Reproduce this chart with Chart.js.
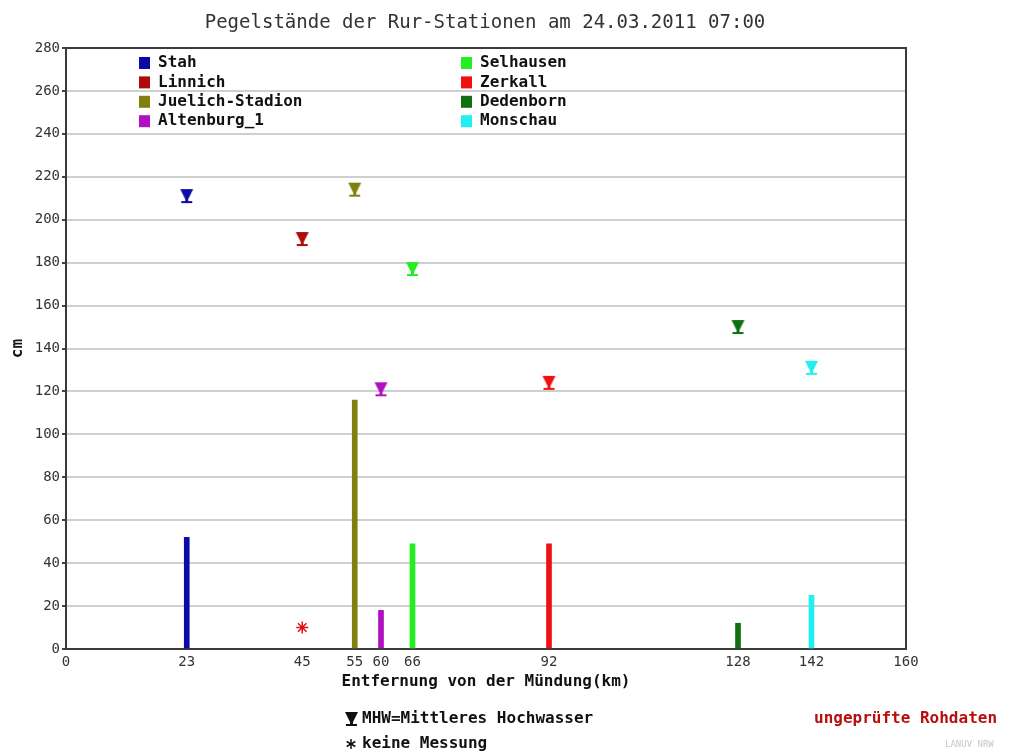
<!DOCTYPE html>
<html>
<head>
<meta charset="utf-8">
<script src="https://cdn.jsdelivr.net/npm/chart.js@4.4.1/dist/chart.umd.min.js"></script>
<style>
  html, body { margin: 0; padding: 0; background: #fff; }
</style>
</head>
<body>
<canvas id="pegel" width="1010" height="753"></canvas>
<script>
// stations ordered by distance from the mouth (km)
const stations = ['Stah', 'Linnich', 'Juelich-Stadion', 'Altenburg_1', 'Selhausen', 'Zerkall', 'Dedenborn', 'Monschau'];
const distanceKm = [23, 45, 55, 60, 66, 92, 128, 142];
const levelCm = [52, null, 116, 18, 49, 49, 12, 25];      // null = keine Messung
const mhwCm = [211, 191, 214, 121, 177, 124, 150, 131];
const missingMarkCm = [10];
const xTickValues = [0, 23, 45, 55, 60, 66, 92, 128, 142, 160];
const yTickValues = [0, 20, 40, 60, 80, 100, 120, 140, 160, 180, 200, 220, 240, 260, 280];

const stationColors = ['#0a0aa8', '#b00a0a', '#808010', '#b010c0', '#22ee22', '#f01010', '#107010', '#22f0f0'];

const MONO = '"DejaVu Sans Mono", "Liberation Mono", monospace';

// MHW marker: down triangle on a stem with a base line
function mhwMarker(color) {
    const c = document.createElement('canvas');
    c.width = 15; c.height = 16;
    const g = c.getContext('2d');
    g.fillStyle = color;
    g.beginPath();
    g.moveTo(1, 1); g.lineTo(14, 1); g.lineTo(9, 11); g.lineTo(6, 11);
    g.closePath();
    g.fill();
    g.fillRect(6, 10, 3, 3);
    g.fillRect(2, 13, 11, 2);
    return c;
}

const barData = [];
const barColors = [];
const mhwData = [];
const mhwStyles = [];
const missingData = [];
stations.forEach((name, i) => {
    if (levelCm[i] !== null) {
        barData.push({ x: distanceKm[i], y: levelCm[i] });
        barColors.push(stationColors[i]);
    } else {
        missingData.push({ x: distanceKm[i], y: missingMarkCm[0] });
    }
    mhwData.push({ x: distanceKm[i], y: mhwCm[i] });
    mhwStyles.push(mhwMarker(stationColors[i]));
});

const decorations = {
    id: 'decorations',
    beforeDatasetsDraw(chart) {
        const { ctx, chartArea: a } = chart;
        ctx.save();
        ctx.strokeStyle = '#3a3a3a';
        ctx.lineWidth = 2;
        ctx.strokeRect(a.left, a.top, a.right - a.left, a.bottom - a.top);
        ctx.restore();
    },
    afterDraw(chart) {
        const { ctx, chartArea: a } = chart;
        const mid = (a.left + a.right) / 2;
        ctx.save();
        ctx.textBaseline = 'middle';

        // title
        ctx.fillStyle = '#333';
        ctx.font = '19px ' + MONO;
        ctx.textAlign = 'center';
        ctx.fillText('Pegelstände der Rur-Stationen am 24.03.2011 07:00', mid - 1, 23);

        // axis titles
        ctx.fillStyle = '#111';
        ctx.font = 'bold 16px ' + MONO;
        ctx.fillText('Entfernung von der Mündung(km)', mid, 682);
        ctx.save();
        ctx.translate(18, (a.top + a.bottom) / 2);
        ctx.rotate(-Math.PI / 2);
        ctx.fillText('cm', 0, 0);
        ctx.restore();

        // legend, two columns of four
        ctx.textAlign = 'left';
        ctx.font = 'bold 16px ' + MONO;
        stations.forEach((name, i) => {
            const col = Math.floor(i / 4), row = i % 4;
            const x = col === 0 ? 139 : 461;
            const y = 63 + row * 19.4;
            ctx.fillStyle = stationColors[i];
            ctx.fillRect(x, y - 6, 11, 12);
            ctx.fillStyle = '#111';
            ctx.fillText(name, x + 19, y);
        });

        // footnotes
        ctx.drawImage(mhwMarker('#111'), 344, 711);
        ctx.fillText('MHW=Mittleres Hochwasser', 362, 719);
        ctx.strokeStyle = '#111';
        ctx.lineWidth = 1.5;
        const sx = 351, sy = 744, r = 5;
        for (let k = 0; k < 3; k++) {
            const t = k * Math.PI / 3 + Math.PI / 2;
            ctx.beginPath();
            ctx.moveTo(sx - r * Math.cos(t), sy - r * Math.sin(t));
            ctx.lineTo(sx + r * Math.cos(t), sy + r * Math.sin(t));
            ctx.stroke();
        }
        ctx.fillText('keine Messung', 362, 744);

        ctx.fillStyle = '#b80e0e';
        ctx.font = 'bold 16px ' + MONO;
        ctx.fillText('ungeprüfte Rohdaten', 814, 719);

        ctx.fillStyle = '#c8c8c8';
        ctx.font = '9px ' + MONO;
        ctx.fillText('LANUV NRW', 945, 745);
        ctx.restore();
    }
};

new Chart(document.getElementById('pegel'), {
    type: 'bar',
    data: {
        datasets: [
            {
                type: 'bar',
                label: 'Pegel',
                data: barData,
                backgroundColor: barColors,
                barThickness: 5,
                order: 2
            },
            {
                type: 'scatter',
                label: 'MHW',
                data: mhwData,
                pointStyle: mhwStyles,
                order: 1
            },
            {
                type: 'scatter',
                label: 'keine Messung',
                data: missingData,
                pointStyle: 'star',
                radius: 6,
                borderColor: '#e01010',
                borderWidth: 1.5,
                order: 1
            }
        ]
    },
    options: {
        responsive: false,
        animation: false,
        devicePixelRatio: 1,
        layout: { padding: { top: 48, right: 104, left: 0, bottom: 0 } },
        plugins: {
            legend: { display: false },
            title: { display: false },
            tooltip: { enabled: false }
        },
        scales: {
            x: {
                type: 'linear',
                min: 0,
                max: 160,
                offset: false,
                afterFit: s => { s.height = 104; },
                afterBuildTicks: s => { s.ticks = xTickValues.map(v => ({ value: v })); },
                grid: { display: false, offset: false },
                border: { display: false },
                ticks: {
                    autoSkip: false,
                    maxRotation: 0,
                    padding: -3,
                    color: '#333',
                    font: { family: MONO, size: 14 }
                }
            },
            y: {
                type: 'linear',
                min: 0,
                max: 280,
                afterFit: s => { s.width = 66; },
                afterBuildTicks: s => { s.ticks = yTickValues.map(v => ({ value: v })); },
                grid: { color: '#cfcfcf', lineWidth: 2, tickLength: 4, tickColor: '#444' },
                border: { display: false },
                ticks: {
                    padding: 2,
                    color: '#333',
                    font: { family: MONO, size: 14 }
                }
            }
        }
    },
    plugins: [decorations]
});
</script>
</body>
</html>
